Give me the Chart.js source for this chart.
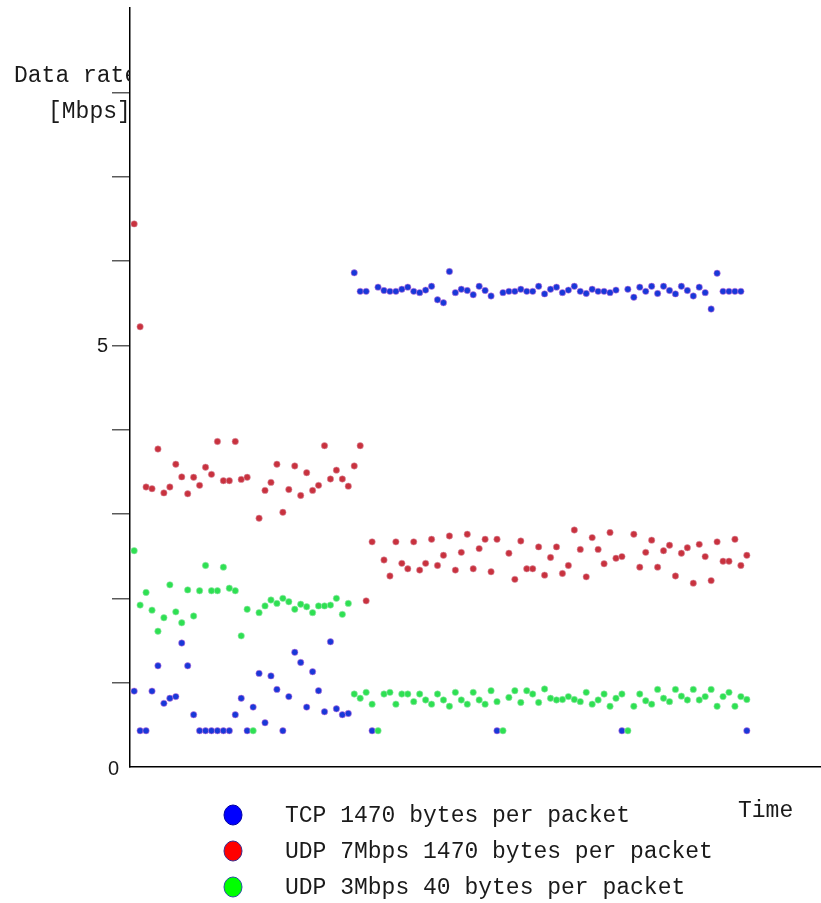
<!DOCTYPE html>
<html>
<head>
<meta charset="utf-8">
<script src="https://cdn.jsdelivr.net/npm/chart.js@4.4.1/dist/chart.umd.min.js"></script>
<style>
  html, body { margin: 0; padding: 0; background: #fff; overflow: hidden; }
  #wrap { width: 821px; height: 903px; position: relative; }
  #rateChart { display: block; }
</style>
</head>
<body>
<div id="wrap"><canvas id="rateChart"></canvas></div>
<script>
// Samples are evenly spaced in time; index = sample number
const tcpRate = [
  0.90, 0.43, 0.43, 0.90, 1.20, 0.755, 0.815, 0.835, 1.47, 1.20,
  0.62, 0.43, 0.43, 0.43, 0.43, 0.43, 0.43, 0.62, 0.815, 0.43,
  0.71, 1.11, 0.525, 1.08, 0.92, 0.43, 0.835, 1.36, 1.24, 0.71,
  1.13, 0.905, 0.655, 1.485, 0.69, 0.62, 0.635, 5.86, 5.64, 5.64,
  0.43, 5.69, 5.65, 5.64, 5.64, 5.665, 5.69, 5.64, 5.625, 5.655,
  5.70, 5.54, 5.505, 5.875, 5.625, 5.665, 5.65, 5.60, 5.70, 5.65,
  5.585, 0.43, 5.625, 5.64, 5.64, 5.665, 5.64, 5.64, 5.70, 5.61,
  5.665, 5.69, 5.625, 5.655, 5.70, 5.64, 5.615, 5.665, 5.64, 5.64,
  5.625, 5.655, 0.43, 5.665, 5.57, 5.69, 5.64, 5.70, 5.615, 5.70,
  5.65, 5.61, 5.70, 5.65, 5.585, 5.69, 5.625, 5.43, 5.855, 5.64,
  5.64, 5.64, 5.64, 0.43,
];

const udp7Rate = [
  6.44, 5.22, 3.32, 3.30, 3.77, 3.25, 3.32, 3.59, 3.44, 3.24,
  3.435, 3.34, 3.555, 3.47, 3.86, 3.395, 3.395, 3.86, 3.41, 3.435,
  null, 2.95, 3.28, 3.375, 3.59, 3.02, 3.29, 3.57, 3.22, 3.49,
  3.28, 3.34, 3.81, 3.415, 3.52, 3.415, 3.33, 3.57, 3.81, 1.97,
  2.67, null, 2.455, 2.265, 2.67, 2.415, 2.35, 2.67, 2.335, 2.415,
  2.70, 2.39, 2.51, 2.74, 2.335, 2.545, 2.76, 2.35, 2.59, 2.70,
  2.315, 2.70, null, 2.535, 2.225, 2.68, 2.35, 2.35, 2.61, 2.275,
  2.485, 2.61, 2.295, 2.39, 2.81, 2.58, 2.255, 2.72, 2.58, 2.41,
  2.78, 2.475, 2.495, null, 2.76, 2.37, 2.545, 2.69, 2.37, 2.565,
  2.63, 2.265, 2.535, 2.60, 2.18, 2.64, 2.495, 2.21, 2.67, 2.44,
  2.44, 2.70, 2.39, 2.51,
];

const udp3Rate = [
  2.565, 1.92, 2.07, 1.86, 1.61, 1.77, 2.16, 1.84, 1.71, 2.10,
  1.79, 2.09, 2.39, 2.09, 2.09, 2.37, 2.12, 2.09, 1.555, 1.87,
  0.43, 1.83, 1.91, 1.98, 1.94, 2.00, 1.96, 1.87, 1.93, 1.90,
  1.83, 1.91, 1.91, 1.92, 2.00, 1.81, 1.94, 0.865, 0.815, 0.885,
  0.745, 0.43, 0.865, 0.885, 0.745, 0.865, 0.865, 0.775, 0.865, 0.795,
  0.745, 0.865, 0.795, 0.72, 0.885, 0.795, 0.745, 0.885, 0.795, 0.745,
  0.905, 0.775, 0.43, 0.825, 0.905, 0.765, 0.905, 0.865, 0.765, 0.925,
  0.815, 0.795, 0.80, 0.835, 0.80, 0.775, 0.885, 0.745, 0.795, 0.865,
  0.72, 0.815, 0.865, 0.43, 0.72, 0.865, 0.785, 0.745, 0.92, 0.815,
  0.775, 0.92, 0.84, 0.795, 0.92, 0.795, 0.835, 0.92, 0.72, 0.835,
  0.885, 0.72, 0.835, 0.80,
];

const seriesLabels = [
  'TCP 1470 bytes per packet',
  'UDP 7Mbps 1470 bytes per packet',
  'UDP 3Mbps 40 bytes per packet',
];
const yTickLabels = [0, 5];
const yTitle = ['Data rate', '[Mbps]'];
const xTitle = 'Time';

const POINT_COLORS = ['#1838d8', '#c8323e', '#2ee052'];
const HALO_COLORS = ['rgba(214,120,220,0.55)', 'rgba(220,150,170,0.55)', 'rgba(150,230,170,0.6)'];
const LEGEND_FILL = ['#0000ff', '#ff0000', '#00ff00'];
const LEGEND_EDGE = ['#0000a0', '#3a2a8a', '#2a50a0'];
const TEXT = '#1a1a1a';
const MONO = '23px "Courier New", "Liberation Mono", monospace';

const toPoints = vals => vals.map((v, i) => ({ x: i, y: v })).filter(p => p.y != null);

const textPlugin = {
  id: 'textPlugin',
  afterDraw(chart) {
    const { ctx, chartArea, scales: { y } } = chart;

    // axis title sits left of the plot and is cut off by it
    ctx.save();
    ctx.beginPath();
    ctx.rect(0, 0, chartArea.left, chart.height);
    ctx.clip();
    ctx.font = MONO;
    ctx.fillStyle = TEXT;
    ctx.textAlign = 'left';
    ctx.textBaseline = 'alphabetic';
    ctx.fillText(yTitle[0], 14, 82);
    ctx.fillText(yTitle[1], 48, 118);
    ctx.restore();

    ctx.save();
    ctx.font = '20px "Liberation Sans", Arial, sans-serif';
    ctx.fillStyle = TEXT;
    ctx.textAlign = 'right';
    ctx.textBaseline = 'middle';
    for (const v of yTickLabels) {
      const hasMark = v !== 0;
      ctx.fillText(String(v), chartArea.left - (hasMark ? 22 : 11), y.getPixelForValue(v) + (hasMark ? 1 : 2));
    }

    ctx.font = MONO;
    ctx.textAlign = 'left';
    ctx.textBaseline = 'alphabetic';
    ctx.fillText(xTitle, 738, 817);

    seriesLabels.forEach((label, i) => {
      const cy = 815 + i * 36;
      ctx.beginPath();
      ctx.ellipse(233, cy, 9, 10, 0, 0, Math.PI * 2);
      ctx.fillStyle = LEGEND_FILL[i];
      ctx.fill();
      ctx.lineWidth = 1;
      ctx.strokeStyle = LEGEND_EDGE[i];
      ctx.stroke();
      ctx.fillStyle = TEXT;
      ctx.fillText(label, 285, cy + 7);
    });
    ctx.restore();
  },
};

function scatterSet(label, vals, i) {
  return {
    label,
    data: toPoints(vals),
    pointRadius: 3.2,
    pointHoverRadius: 3.2,
    backgroundColor: POINT_COLORS[i],
    borderColor: HALO_COLORS[i],
    borderWidth: 1,
    showLine: false,
  };
}

new Chart(document.getElementById('rateChart'), {
  type: 'scatter',
  data: {
    datasets: [
      scatterSet(seriesLabels[1], udp7Rate, 1),
      scatterSet(seriesLabels[2], udp3Rate, 2),
      scatterSet(seriesLabels[0], tcpRate, 0),
    ],
  },
  options: {
    responsive: true,
    maintainAspectRatio: false,
    animation: false,
    layout: { autoPadding: false, padding: { left: 0, top: 8, right: 1, bottom: 136 } },
    plugins: { legend: { display: false }, tooltip: { enabled: false } },
    scales: {
      x: {
        type: 'linear',
        min: -0.7,
        max: 115.3,
        grid: { display: false },
        border: { display: true, color: '#000', width: 1.5 },
        ticks: { display: false },
        afterFit(s) { s.height = 0; s.paddingLeft = 0; s.paddingRight = 0; },
      },
      y: {
        min: 0,
        max: 9,
        ticks: { stepSize: 1, callback: () => '' },
        grid: {
          drawOnChartArea: false,
          drawTicks: true,
          tickLength: 18,
          lineWidth: 1.5,
          color: c => (c.tick && c.tick.value > 0 && c.tick.value < 9 ? '#5a5a5a' : 'rgba(0,0,0,0)'),
        },
        border: { display: true, color: '#000', width: 1.5 },
        afterFit(s) { s.width = 130; s.paddingTop = 0; s.paddingBottom = 0; },
      },
    },
  },
  plugins: [textPlugin],
});
</script>
</body>
</html>
